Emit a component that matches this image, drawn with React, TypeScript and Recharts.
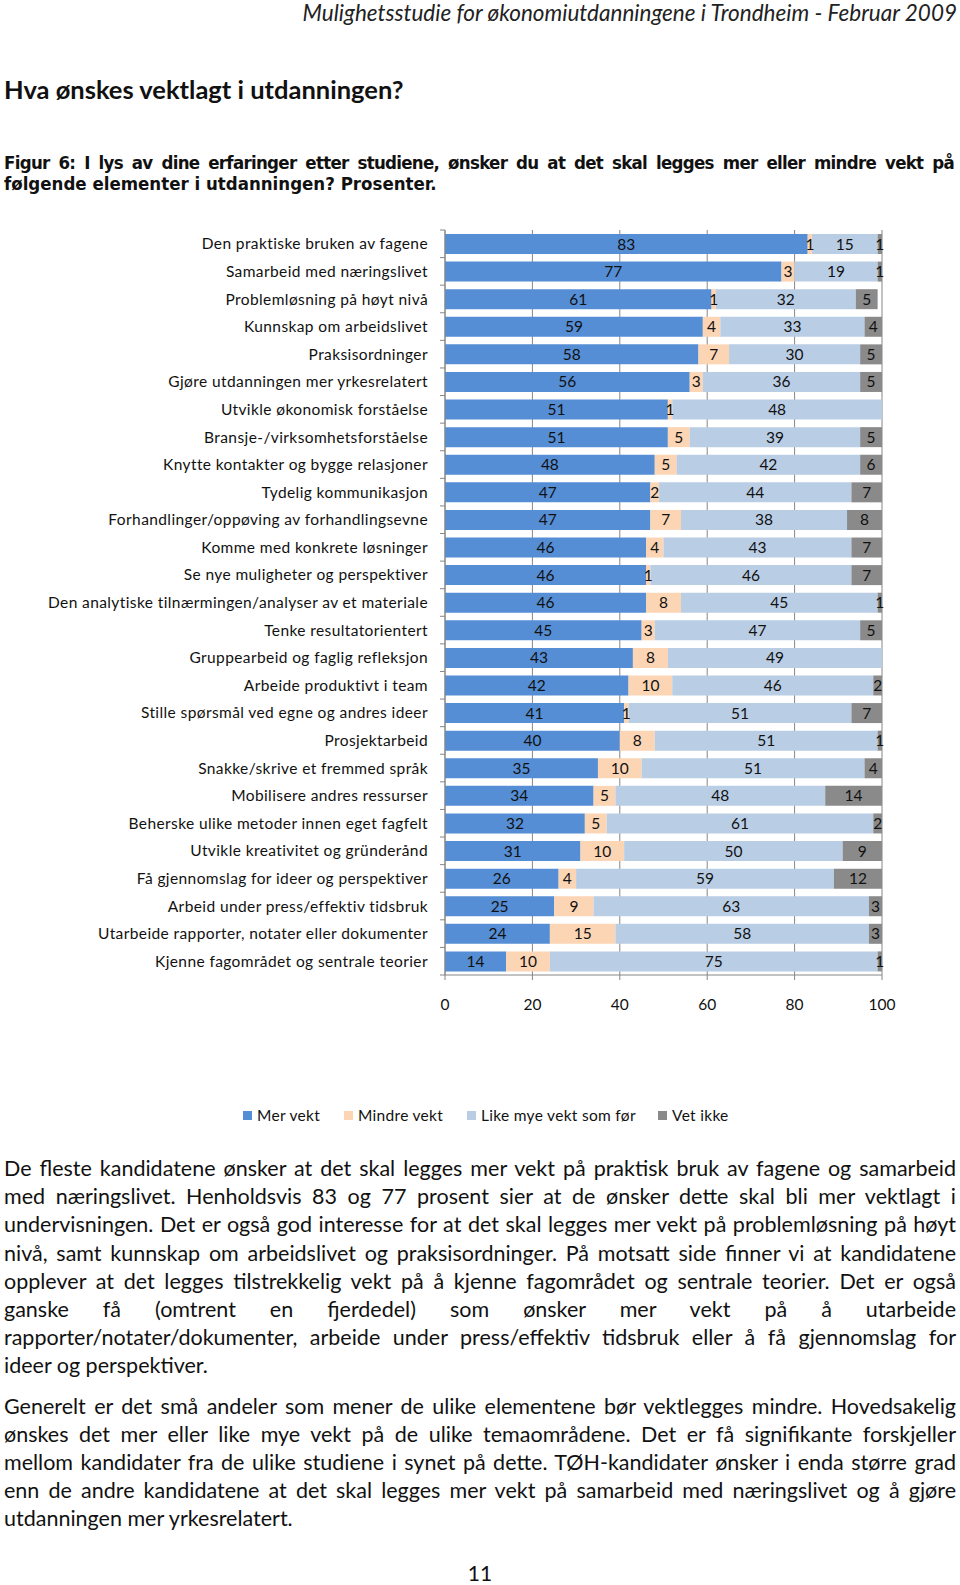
import { BarChart, Bar, XAxis, YAxis, CartesianGrid, LabelList } from "recharts";

// Data
const categories = [
	"Den praktiske bruken av fagene",
	"Samarbeid med næringslivet",
	"Problemløsning på høyt nivå",
	"Kunnskap om arbeidslivet",
	"Praksisordninger",
	"Gjøre utdanningen mer yrkesrelatert",
	"Utvikle økonomisk forståelse",
	"Bransje-/virksomhetsforståelse",
	"Knytte kontakter og bygge relasjoner",
	"Tydelig kommunikasjon",
	"Forhandlinger/oppøving av forhandlingsevne",
	"Komme med konkrete løsninger",
	"Se nye muligheter og perspektiver",
	"Den analytiske tilnærmingen/analyser av et materiale",
	"Tenke resultatorientert",
	"Gruppearbeid og faglig refleksjon",
	"Arbeide produktivt i team",
	"Stille spørsmål ved egne og andres ideer",
	"Prosjektarbeid",
	"Snakke/skrive et fremmed språk",
	"Mobilisere andres ressurser",
	"Beherske ulike metoder innen eget fagfelt",
	"Utvikle kreativitet og gründerånd",
	"Få gjennomslag for ideer og perspektiver",
	"Arbeid under press/effektiv tidsbruk",
	"Utarbeide rapporter, notater eller dokumenter",
	"Kjenne fagområdet og sentrale teorier",
];
const merVekt = [83, 77, 61, 59, 58, 56, 51, 51, 48, 47, 47, 46, 46, 46, 45, 43, 42, 41, 40, 35, 34, 32, 31, 26, 25, 24, 14];
const mindreVekt = [1, 3, 1, 4, 7, 3, 1, 5, 5, 2, 7, 4, 1, 8, 3, 8, 10, 1, 8, 10, 5, 5, 10, 4, 9, 15, 10];
const likeMye = [15, 19, 32, 33, 30, 36, 48, 39, 42, 44, 38, 43, 46, 45, 47, 49, 46, 51, 51, 51, 48, 61, 50, 59, 63, 58, 75];
const vetIkke = [1, 1, 5, 4, 5, 5, 1, 5, 6, 7, 8, 7, 7, 1, 5, 1, 2, 7, 1, 4, 14, 2, 9, 12, 3, 3, 1];
const xTicks = [0, 20, 40, 60, 80, 100];

const seriesKeys = ["mer", "mindre", "like", "vet"];
const seriesNames = ["Mer vekt", "Mindre vekt", "Like mye vekt som før", "Vet ikke"];
const seriesColors = ["#558ED5", "#FCD5B5", "#B9CDE5", "#8A8A8A"];

const paragraph1 = [
	"De fleste kandidatene ønsker at det skal legges mer vekt på praktisk bruk av fagene og samarbeid",
	"med næringslivet. Henholdsvis 83 og 77 prosent sier at de ønsker dette skal bli mer vektlagt i",
	"undervisningen. Det er også god interesse for at det skal legges mer vekt på problemløsning på høyt",
	"nivå, samt kunnskap om arbeidslivet og praksisordninger. På motsatt side finner vi at kandidatene",
	"opplever at det legges tilstrekkelig vekt på å kjenne fagområdet og sentrale teorier. Det er også",
	"ganske få (omtrent en fjerdedel) som ønsker mer vekt på å utarbeide",
	"rapporter/notater/dokumenter, arbeide under press/effektiv tidsbruk eller å få gjennomslag for",
	"ideer og perspektiver.",
];
const paragraph2 = [
	"Generelt er det små andeler som mener de ulike elementene bør vektlegges mindre. Hovedsakelig",
	"ønskes det mer eller like mye vekt på de ulike temaområdene. Det er få signifikante forskjeller",
	"mellom kandidater fra de ulike studiene i synet på dette. TØH-kandidater ønsker i enda større grad",
	"enn de andre kandidatene at det skal legges mer vekt på samarbeid med næringslivet og å gjøre",
	"utdanningen mer yrkesrelatert.",
];

const data = categories.map((name, i) => ({
	name,
	mer: merVekt[i],
	mindre: mindreVekt[i],
	like: likeMye[i],
	vet: vetIkke[i],
}));

const FONT = "Lato, 'Open Sans', sans-serif";
const AXIS = "#868686";
const PLOT_H = 745;
const ROW = PLOT_H / categories.length;

const CategoryTick = (props: any) => {
	const { x, y, payload, index } = props;
	return (
		<g>
			<line x1={x + 12} x2={x + 17} y1={y - ROW / 2} y2={y - ROW / 2} stroke={AXIS} />
			{index === categories.length - 1 && (
				<line x1={x + 12} x2={x + 17} y1={y + ROW / 2} y2={y + ROW / 2} stroke={AXIS} />
			)}
			<text
				x={x}
				y={y}
				dy="0.36em"
				textAnchor="end"
				fontSize={15.5}
				letterSpacing={0.4}
				fill="#111"
				fontFamily={FONT}
			>
				{payload.value}
			</text>
		</g>
	);
};

const Paragraph = ({ lines, top }: { lines: string[]; top: number }) => (
	<div style={{ position: "absolute", left: 4, top, width: 952, fontSize: 21.5, lineHeight: "28.2px" }}>
		{lines.map((l, i) => (
			<div
				key={i}
				style={{
					whiteSpace: "nowrap",
					textAlign: "justify",
					textAlignLast: i === lines.length - 1 ? "left" : "justify",
				}}
			>
				{l}
			</div>
		))}
	</div>
);

function App() {
	return (
		<div
			style={{
				position: "absolute",
				left: 0,
				top: 0,
				width: 960,
				height: 1585,
				background: "#fff",
				fontFamily: FONT,
				color: "#111",
			}}
		>
			<div style={{ position: "absolute", right: 3, top: 0, fontSize: 22.5, lineHeight: "26px", fontStyle: "italic", color: "#222", whiteSpace: "nowrap" }}>
				Mulighetsstudie for økonomiutdanningene i Trondheim - Februar 2009
			</div>
			<div style={{ position: "absolute", left: 4, top: 74, fontSize: 25.5, lineHeight: "30px", fontWeight: 700 }}>
				Hva ønskes vektlagt i utdanningen?
			</div>
			<div
				style={{
					position: "absolute",
					left: 4,
					top: 152,
					width: 950,
					fontSize: 18.5,
					lineHeight: "21px",
					fontWeight: 700,
					fontFamily: "'DejaVu Sans Condensed', 'DejaVu Sans', sans-serif",
				}}
			>
				<div style={{ whiteSpace: "nowrap", textAlign: "justify", textAlignLast: "justify", letterSpacing: -0.7 }}>
					Figur 6: I lys av dine erfaringer etter studiene, ønsker du at det skal legges mer eller mindre vekt på
				</div>
				<div style={{ whiteSpace: "nowrap" }}>følgende elementer i utdanningen? Prosenter.</div>
			</div>

			<div style={{ position: "absolute", left: 0, top: 220 }}>
				<BarChart
					width={960}
					height={10 + PLOT_H + 40}
					data={data}
					layout="vertical"
					margin={{ top: 10, right: 78, bottom: 0, left: 0 }}
					barSize={20}
				>
					<CartesianGrid horizontal={false} stroke={AXIS} strokeWidth={1} />
					<XAxis
						type="number"
						domain={[0, 100]}
						ticks={xTicks}
						allowDataOverflow
						height={40}
						axisLine={{ stroke: AXIS }}
						tickLine={{ stroke: AXIS }}
						tickSize={5}
						tickMargin={19}
						tick={{ fontSize: 15.5, fill: "#111", fontFamily: FONT }}
					/>
					<YAxis
						type="category"
						dataKey="name"
						width={445}
						interval={0}
						axisLine={{ stroke: AXIS }}
						tickLine={false}
						tickSize={0}
						tickMargin={17}
						tick={<CategoryTick />}
					/>
					{seriesKeys.map((k, i) => (
						<Bar key={k} dataKey={k} name={seriesNames[i]} stackId="a" fill={seriesColors[i]} isAnimationActive={false}>
							<LabelList dataKey={k} position="center" fill="#111" fontSize={15.5} fontFamily={FONT} />
						</Bar>
					))}
				</BarChart>
			</div>

			<div style={{ position: "absolute", top: 1104, left: 0, width: 960, height: 22, fontSize: 15.5, lineHeight: "22px", letterSpacing: 0.3 }}>
				{seriesNames.map((n, i) => (
					<div
						key={n}
						style={{
							position: "absolute",
							left: [243, 344, 467, 658][i],
							top: 0,
							display: "flex",
							alignItems: "center",
							whiteSpace: "nowrap",
						}}
					>
						<span style={{ display: "inline-block", width: 9, height: 9, background: seriesColors[i], marginRight: 5 }} />
						{n}
					</div>
				))}
			</div>

			<Paragraph lines={paragraph1} top={1154} />
			<Paragraph lines={paragraph2} top={1391.5} />

			<div style={{ position: "absolute", left: 0, width: 960, top: 1561, textAlign: "center", fontSize: 21, lineHeight: "24px" }}>
				11
			</div>
		</div>
	);
}

export default App;
